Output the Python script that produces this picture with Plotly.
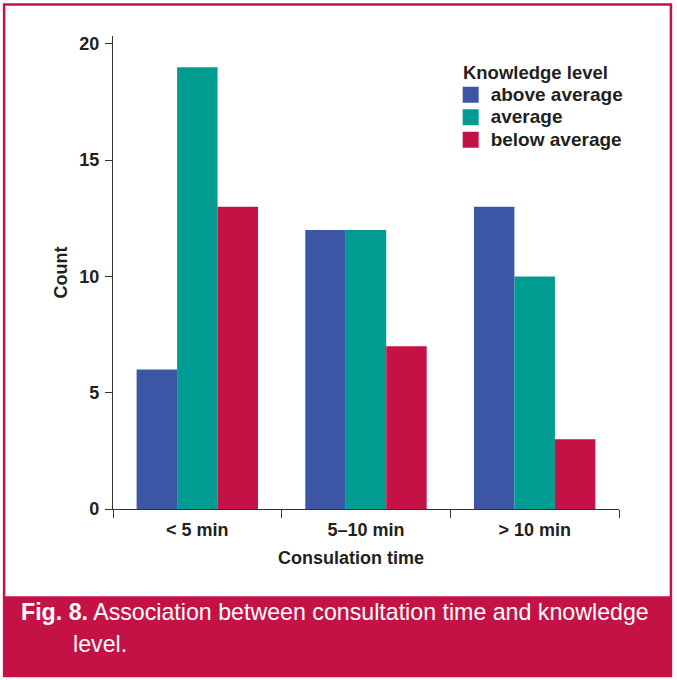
import plotly.graph_objects as go

# ---- data ----
categories = ["< 5 min", "5–10 min", "> 10 min"]
series_names = ["above average", "average", "below average"]
above_average = [6, 12, 13]
average = [19, 12, 10]
below_average = [13, 7, 3]
y_ticks = [0, 5, 10, 15, 20]

colors = ["#3c56a5", "#009b91", "#c51246"]
crimson = "#c41246"
ink = "#231f20"
FONT = "Liberation Sans, Arial, Helvetica, sans-serif"

W, H = 677, 680
PL, PR = 113, 619.5      # plot area x pixels
PT, PB = 36, 508.7       # plot area y pixels

def px(x):
    return (x - PL) / (PR - PL)

def py(y):
    return (PB - y) / (PB - PT)

fig = go.Figure()
for name, vals, col in zip(series_names, [above_average, average, below_average], colors):
    fig.add_trace(go.Bar(x=categories, y=vals, name=name, marker=dict(color=col, line=dict(width=0)),
                         showlegend=False))
# legend proxies (square swatches)
for name, col in zip(series_names, colors):
    fig.add_trace(go.Scatter(x=[None], y=[None], mode="markers",
                             name=f"<span style='font-size:19px'>{name}</span>",
                             marker=dict(symbol="square", size=16, color=col, line=dict(width=0))))

shapes = [
    # caption box
    dict(type="rect", xref="paper", yref="paper", x0=px(3), x1=px(672.5), y0=py(596), y1=py(676),
         fillcolor=crimson, line=dict(width=0), layer="below"),
    # outer border
    dict(type="rect", xref="paper", yref="paper", x0=px(4), x1=px(671.5), y0=py(4.5), y1=py(675.5),
         fillcolor="rgba(0,0,0,0)", line=dict(color=crimson, width=2.5), layer="below"),
]

annotations = [
    dict(text="Consulation time", xref="paper", yref="paper", x=px(351), y=py(558),
         xanchor="center", yanchor="middle", showarrow=False,
         font=dict(family=FONT, size=18, color=ink, weight="bold")),
    dict(text="<b>Fig. 8.</b> Association between consultation time and knowledge",
         xref="paper", yref="paper", x=px(19), y=py(612), xanchor="left", yanchor="middle",
         showarrow=False, font=dict(family=FONT, size=23.2, color="white")),
    dict(text="level.", xref="paper", yref="paper", x=px(71), y=py(644), xanchor="left", yanchor="middle",
         showarrow=False, font=dict(family=FONT, size=23.2, color="white")),
]

fig.update_layout(
    width=W, height=H,
    margin=dict(l=PL, r=W - PR, t=PT, b=H - PB, pad=0),
    paper_bgcolor="white", plot_bgcolor="white",
    barmode="group", bargap=0.28, bargroupgap=0,
    font=dict(family=FONT, size=18, color=ink),
    shapes=shapes, annotations=annotations,
    legend=dict(
        x=px(451), y=py(54.5), xanchor="left", yanchor="top",
        bgcolor="rgba(0,0,0,0)", borderwidth=0,
        title=dict(text="&nbsp;&nbsp;Knowledge level",
                   font=dict(family=FONT, size=18.5, color=ink, weight="bold")),
        font=dict(family=FONT, size=15, color=ink, weight="bold"),
        traceorder="normal", itemsizing="trace",
    ),
    xaxis=dict(
        type="category", categoryorder="array", categoryarray=categories,
        showline=True, linecolor="#333333", linewidth=1.3,
        ticks="outside", tickson="boundaries", ticklen=8, tickwidth=1.3, tickcolor="#333333",
        tickfont=dict(family=FONT, size=18, color=ink, weight="bold"),
        ticklabelstandoff=4,
        showgrid=False, zeroline=False,
    ),
    yaxis=dict(
        range=[0, 20.34], tickvals=y_ticks, ticktext=[str(v) for v in y_ticks],
        showline=True, linecolor="#333333", linewidth=1.3,
        ticks="outside", ticklen=7, tickwidth=1.3, tickcolor="#333333",
        tickfont=dict(family=FONT, size=18, color=ink, weight="bold"),
        ticklabelstandoff=2,
        showgrid=False, zeroline=False,
        title=dict(text="Count", font=dict(family=FONT, size=18, color=ink, weight="bold"), standoff=6),
    ),
)

fig.write_html("out.html", config={"displayModeBar": False},
               post_script="document.body.style.margin='0';")
